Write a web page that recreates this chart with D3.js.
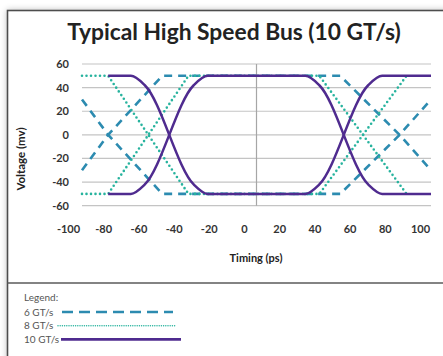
<!DOCTYPE html>
<html>
<head>
<meta charset="utf-8">
<script src="https://cdn.jsdelivr.net/npm/d3@7"></script>
<style>
  body { margin: 0; background: #fff; }
  text { font-family: Lato, "Open Sans", sans-serif; }
</style>
</head>
<body>
<script>
const width = 443;
const height = 356;

// axis ticks
const timingTicks = [-100, -80, -60, -40, -20, 0, 20, 40, 60, 80, 100];
const voltageTicks = [-60, -40, -20, 0, 20, 40, 60];

// [timing ps, voltage mv]
const gt6High = [[-100, 30], [-85, 0], [-54, -50], [48, -50], [82, 0], [100, 30]];
const gt6Low = [[-100, -30], [-85, 0], [-54, 50], [48, 50], [82, 0], [100, -30]];
const gt8High = [[-100, 50], [-85, 50], [-39, -50], [36, -50], [86, 50]];
const gt8Low = [[-100, -50], [-85, -50], [-39, 50], [36, 50], [86, -50]];
const gt10High = [[-85, 50], [-72, 50], [-64, 42], [-36, -42], [-28, -50], [28, -50], [36, -42], [64, 42], [72, 50], [100, 50]];
const gt10Low = [[-85, -50], [-72, -50], [-64, -42], [-36, 42], [-28, 50], [28, 50], [36, 42], [64, -42], [72, -50], [100, -50]];

const legendLabels = ['6 GT/s', '8 GT/s', '10 GT/s'];

const colors = { gt6: '#2c8bb0', gt8: '#27b39e', gt10: '#4f2b8f' };

const svg = d3.select('body').append('svg')
    .attr('width', width)
    .attr('height', height);

const defs = svg.append('defs');
const shadow = defs.append('filter')
    .attr('id', 'shadow')
    .attr('x', '-10%').attr('y', '-10%')
    .attr('width', '120%').attr('height', '120%');
shadow.append('feGaussianBlur')
    .attr('in', 'SourceAlpha')
    .attr('stdDeviation', 3);
shadow.append('feComponentTransfer')
  .append('feFuncA')
    .attr('type', 'linear')
    .attr('slope', 0.25);
const merge = shadow.append('feMerge');
merge.append('feMergeNode');
merge.append('feMergeNode').attr('in', 'SourceGraphic');

// frame
svg.append('rect')
    .attr('x', 7.5)
    .attr('y', 10.5)
    .attr('width', 460)
    .attr('height', 380)
    .attr('fill', '#fff')
    .attr('stroke', '#4d4d4d')
    .attr('stroke-width', 1.6)
    .attr('filter', 'url(#shadow)');

svg.append('line')
    .attr('x1', 7.5).attr('x2', width)
    .attr('y1', 283).attr('y2', 283)
    .attr('stroke', '#5a5a5a')
    .attr('stroke-width', 1.5);

const x = d3.scaleLinear().domain([-100, 100]).range([82, 431]);
const y = d3.scaleLinear().domain([-60, 60]).range([205.7, 64]);
// tick labels sit a little left of the plot in the original
const xLabels = d3.scaleLinear().domain([-100, 100]).range([68, 420]);

svg.append('text')
    .attr('x', 234)
    .attr('y', 40)
    .attr('text-anchor', 'middle')
    .style('font-size', '22.8px')
    .style('font-weight', 'bold')
    .attr('fill', '#222')
    .text('Typical High Speed Bus (10 GT/s)');

svg.append('g')
  .selectAll('line')
  .data(voltageTicks)
  .join('line')
    .attr('x1', x(-100)).attr('x2', x(100))
    .attr('y1', d => y(d)).attr('y2', d => y(d))
    .attr('stroke', '#c4c4c4')
    .attr('stroke-width', 1.2);

svg.append('line')
    .attr('x1', x(0)).attr('x2', x(0))
    .attr('y1', y(60)).attr('y2', y(-60))
    .attr('stroke', '#a6a6a6')
    .attr('stroke-width', 1.2);

const yAxis = svg.append('g')
    .attr('transform', 'translate(72,0)')
    .call(d3.axisLeft(y).tickValues(voltageTicks).tickFormat(d => String(d)).tickSize(0).tickPadding(3));
const xAxis = svg.append('g')
    .attr('transform', 'translate(0,222)')
    .call(d3.axisBottom(xLabels).tickValues(timingTicks).tickFormat(d => String(d)).tickSize(0).tickPadding(3));

[xAxis, yAxis].forEach(axis => {
  axis.select('.domain').remove();
  axis.selectAll('text')
      .style('font-family', 'Lato, "Open Sans", sans-serif')
      .style('font-size', '11px')
      .style('font-weight', 'bold')
      .attr('fill', '#333');
});

svg.append('text')
    .attr('transform', 'translate(25,159) rotate(-90)')
    .attr('text-anchor', 'middle')
    .style('font-size', '11.5px')
    .style('font-weight', 'bold')
    .attr('fill', '#222')
    .text('Voltage (mv)');

svg.append('text')
    .attr('x', 256)
    .attr('y', 262)
    .attr('text-anchor', 'middle')
    .style('font-size', '11px')
    .style('font-weight', 'bold')
    .attr('fill', '#222')
    .text('Timing (ps)');

const line = d3.line()
    .x(d => x(d[0]))
    .y(d => y(d[1]));

const smoothLine = d3.line()
    .x(d => x(d[0]))
    .y(d => y(d[1]))
    .curve(d3.curveMonotoneX);

const chart = svg.append('g').attr('fill', 'none');

[gt6High, gt6Low].forEach(d => {
  chart.append('path')
      .datum(d)
      .attr('d', line)
      .attr('stroke', colors.gt6)
      .attr('stroke-width', 2.6)
      .attr('stroke-dasharray', '8,6');
});

[gt8High, gt8Low].forEach(d => {
  chart.append('path')
      .datum(d)
      .attr('d', line)
      .attr('stroke', colors.gt8)
      .attr('stroke-width', 2.6)
      .attr('stroke-linecap', 'round')
      .attr('stroke-dasharray', '0,4.5');
});

[gt10High, gt10Low].forEach(d => {
  chart.append('path')
      .datum(d)
      .attr('d', smoothLine)
      .attr('stroke', colors.gt10)
      .attr('stroke-width', 2.5);
});

// legend
const legend = svg.append('g');
legend.append('text')
    .attr('x', 24).attr('y', 301)
    .style('font-size', '10px')
    .attr('fill', '#555')
    .text('Legend:');

const legendRows = [
  { label: legendLabels[0], x1: 62, x2: 173, color: colors.gt6, dash: '11,6', w: 2.4, cap: 'butt' },
  { label: legendLabels[1], x1: 58, x2: 176, color: colors.gt8, dash: '0,2.2', w: 1.5, cap: 'round' },
  { label: legendLabels[2], x1: 61, x2: 181, color: colors.gt10, dash: null, w: 2.6, cap: 'butt' }
];

legendRows.forEach((r, i) => {
  const cy = 312 + i * 13.7;
  legend.append('text')
      .attr('x', 24).attr('y', cy + 3.5)
      .style('font-size', '10px')
      .attr('fill', '#555')
      .text(r.label);
  legend.append('line')
      .attr('x1', r.x1).attr('x2', r.x2)
      .attr('y1', cy).attr('y2', cy)
      .attr('stroke', r.color)
      .attr('stroke-width', r.w)
      .attr('stroke-linecap', r.cap)
      .attr('stroke-dasharray', r.dash);
});
</script>
</body>
</html>
